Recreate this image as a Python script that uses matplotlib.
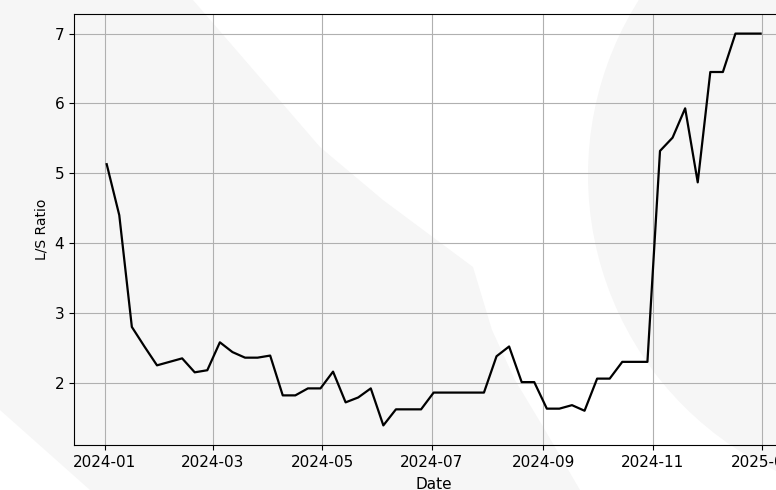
import pandas as pd
import matplotlib
matplotlib.use("Agg")
import matplotlib.pyplot as plt
import matplotlib.dates as mdates
from matplotlib.patches import Polygon, Circle

# weekly L/S ratio readings
start_date = "2024-01-02"
ls_ratio = [
    5.13, 4.40, 2.80, 2.52, 2.25, 2.30, 2.35, 2.15, 2.18, 2.58,
    2.44, 2.36, 2.36, 2.39, 1.82, 1.82, 1.92, 1.92, 2.16, 1.72,
    1.79, 1.92, 1.39, 1.62, 1.62, 1.62, 1.86, 1.86, 1.86, 1.86,
    1.86, 2.38, 2.52, 2.01, 2.01, 1.63, 1.63, 1.68, 1.60, 2.06,
    2.06, 2.30, 2.30, 2.30, 5.32, 5.51, 5.93, 4.87, 6.45, 6.45,
    7.00, 7.00, 7.00,
]
dates = pd.date_range(start_date, periods=len(ls_ratio), freq="7D")

W, H = 776, 490
fig = plt.figure(figsize=(W / 100, H / 100), dpi=100)
fig.patch.set_facecolor("white")

# faint watermark shapes behind the plot (pixel coords, origin top-left)
wm = "#f6f6f6"
px = fig.dpi_scale_trans
left_shape = [(0, 0), (193, 0), (320, 147), (383, 200), (473, 267), (492, 330),
              (515, 380), (545, 430), (580, 490), (90, 490), (0, 410)]
fig.patches.append(Polygon([(x / 100, (H - y) / 100) for x, y in left_shape],
                           closed=True, transform=px,
                           facecolor=wm, edgecolor="none", zorder=-5))
fig.patches.append(Circle((915 / 100, (H - 175) / 100), 327 / 100,
                          transform=px, facecolor=wm,
                          edgecolor="none", zorder=-5))

ax = fig.add_axes([74 / W, 45 / H, 719.3 / W, 431 / H])
ax.set_facecolor("none")
ax.plot(dates, ls_ratio, color="black", linewidth=1.6)
ax.grid(True)
ax.xaxis.set_major_locator(mdates.MonthLocator(bymonth=[1, 3, 5, 7, 9, 11]))
ax.xaxis.set_major_formatter(mdates.DateFormatter("%Y-%m"))
ax.set_xlabel("Date", fontsize=11, labelpad=5)
ax.set_ylabel("L/S Ratio", fontsize=10)
plt.xticks(fontsize=11)
plt.yticks(fontsize=11)

fig.savefig("out.png", dpi=100)
